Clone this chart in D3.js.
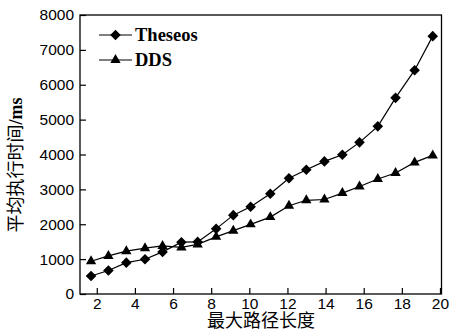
<!DOCTYPE html>
<html>
<head>
<meta charset="utf-8">
<script src="https://cdn.jsdelivr.net/npm/d3@7"></script>
<style>
  body { margin: 0; background: #fff; }
  svg { display: block; }
</style>
</head>
<body>
<div id="chart"></div>
<script>
// values
var pathLength = [1.70, 2.61, 3.55, 4.53, 5.45, 6.44, 7.29, 8.26, 9.16, 10.07,
  11.10, 12.08, 12.99, 13.94, 14.88, 15.78, 16.74, 17.67, 18.67, 19.62];
var theseosTime = [517, 675, 899, 997, 1207, 1486, 1494, 1868, 2261, 2500,
  2874, 3319, 3563, 3802, 3994, 4348, 4807, 5624, 6417, 7394];
var ddsTime = [940, 1092, 1227, 1313, 1379, 1336, 1422, 1638, 1816, 1997,
  2204, 2529, 2687, 2710, 2894, 3083, 3296, 3468, 3773, 3974];
var xTicks = [2, 4, 6, 8, 10, 12, 14, 16, 18, 20];
var yTicks = [0, 1000, 2000, 3000, 4000, 5000, 6000, 7000, 8000];
var seriesNames = ["Theseos", "DDS"];

var width = 449, height = 330;
var margin = { top: 15, right: 7.5, bottom: 36, left: 80 };

var svg = d3.select("#chart").append("svg")
  .attr("width", width)
  .attr("height", height);

// scales
var x = d3.scaleLinear().domain([1.12, 20.08]).range([margin.left, width - margin.right]);
var y = d3.scaleLinear().domain([0, 8000]).range([height - margin.bottom, margin.top]);

// frame
svg.append("rect")
  .attr("x", x.range()[0])
  .attr("y", y.range()[1])
  .attr("width", x.range()[1] - x.range()[0])
  .attr("height", y.range()[0] - y.range()[1])
  .attr("fill", "none")
  .attr("stroke", "#000")
  .attr("stroke-width", 1.3);

// x axis, ticks pointing inward
var xAxis = svg.append("g")
  .attr("transform", "translate(0," + y(0) + ")")
  .call(d3.axisBottom(x).tickValues(xTicks).tickFormat(d3.format("d"))
    .tickSizeInner(-6).tickSizeOuter(0).tickPadding(4));
xAxis.select(".domain").remove();
xAxis.selectAll("line").attr("stroke", "#000").attr("stroke-width", 1.2);
xAxis.selectAll("text")
  .attr("font-family", "'Liberation Sans', Arial, sans-serif")
  .attr("font-size", 15.5)
  .attr("fill", "#000");

// y axis
var yAxis = svg.append("g")
  .attr("transform", "translate(" + x.range()[0] + ",0)")
  .call(d3.axisLeft(y).tickValues(yTicks).tickFormat(d3.format("d"))
    .tickSizeInner(-6).tickSizeOuter(0).tickPadding(6));
yAxis.select(".domain").remove();
yAxis.selectAll("line").attr("stroke", "#000").attr("stroke-width", 1.2);
yAxis.selectAll("text")
  .attr("font-family", "'Liberation Sans', Arial, sans-serif")
  .attr("font-size", 15.5)
  .attr("fill", "#000");

// axis titles
svg.append("text")
  .attr("x", 261)
  .attr("y", 327)
  .attr("text-anchor", "middle")
  .attr("font-family", "'Noto Sans CJK SC', sans-serif")
  .attr("font-size", 18)
  .attr("fill", "#000")
  .text("最大路径长度");

var yTitle = svg.append("text")
  .attr("transform", "translate(22,165) rotate(-90)")
  .attr("text-anchor", "middle")
  .attr("font-family", "'Noto Sans CJK SC', sans-serif")
  .attr("font-size", 18)
  .attr("fill", "#000");
yTitle.append("tspan").text("平均执行时间");
yTitle.append("tspan")
  .attr("font-family", "'Liberation Serif', 'Times New Roman', serif")
  .attr("font-weight", "bold")
  .text("/ms");

// lines and markers
var series = [
  { name: seriesNames[0], values: theseosTime, symbol: d3.symbolSquare, size: 56, rotate: 45 },
  { name: seriesNames[1], values: ddsTime, symbol: d3.symbolTriangle, size: 46, rotate: 0 }
];

var line = d3.line()
  .x(function (d) { return x(d[0]); })
  .y(function (d) { return y(d[1]); });

series.forEach(function (s) {
  var pts = pathLength.map(function (v, i) { return [v, s.values[i]]; });
  svg.append("path")
    .attr("d", line(pts))
    .attr("fill", "none")
    .attr("stroke", "#000")
    .attr("stroke-width", 1.2);
  svg.selectAll(null)
    .data(pts)
    .enter()
    .append("path")
    .attr("d", d3.symbol().type(s.symbol).size(s.size))
    .attr("transform", function (d) {
      return "translate(" + x(d[0]) + "," + y(d[1]) + ") rotate(" + s.rotate + ")";
    })
    .attr("fill", "#000");
});

// legend
var legend = svg.append("g");
series.forEach(function (s, i) {
  var ly = 35 + i * 25;
  legend.append("line")
    .attr("x1", 99).attr("x2", 132)
    .attr("y1", ly).attr("y2", ly)
    .attr("stroke", "#000")
    .attr("stroke-width", 1.2);
  legend.append("path")
    .attr("d", d3.symbol().type(s.symbol).size(s.size))
    .attr("transform", "translate(115.5," + ly + ") rotate(" + s.rotate + ")")
    .attr("fill", "#000");
  legend.append("text")
    .attr("x", 135)
    .attr("y", ly + 6)
    .attr("font-family", "'Liberation Serif', 'Times New Roman', serif")
    .attr("font-weight", "bold")
    .attr("font-size", 18.5)
    .attr("fill", "#000")
    .text(s.name);
});
</script>
</body>
</html>
